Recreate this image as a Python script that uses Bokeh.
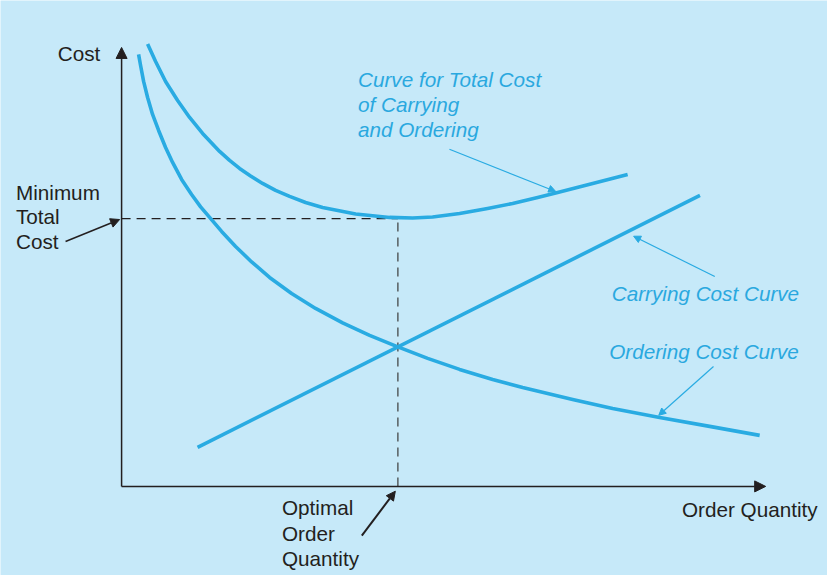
from bokeh.plotting import figure
from bokeh.models import Range1d, Arrow, NormalHead, Label
from bokeh.embed import file_html
from bokeh.resources import INLINE

# ---- data (arbitrary units: order quantity 0..100, cost 0..100) ----
ordering_q = [2.64, 2.95, 3.42, 4.04, 4.81, 5.75, 6.83, 7.92, 9.32, 10.87, 12.27, 13.67,
              15.53, 17.70, 20.19, 22.98, 26.40, 30.12, 34.32, 38.51, 42.70, 47.52,
              52.48, 57.61, 62.27, 70.03, 76.24, 83.54, 91.30, 99.07]
ordering_cost = [98.41, 95.90, 92.26, 88.61, 84.74, 81.09, 77.22, 73.80, 69.93, 66.51, 63.67,
                 61.28, 58.09, 54.67, 51.14, 47.61, 43.96, 40.55, 37.24, 34.40, 31.89,
                 29.16, 26.65, 24.37, 22.55, 19.82, 17.77, 15.72, 13.67, 11.62]

total_q = [4.04, 5.28, 6.83, 8.70, 10.56, 12.58, 15.22, 16.77, 18.32, 20.03, 21.89, 23.91,
           26.09, 28.57, 31.21, 36.34, 41.61, 45.19, 48.29, 52.48, 56.83, 60.71, 64.60,
           67.70, 73.14, 78.57]
total_cost = [100.80, 96.81, 92.26, 87.93, 84.05, 80.41, 76.31, 74.26, 72.44, 70.73, 69.02,
              67.43, 66.06, 64.69, 63.55, 62.07, 61.28, 61.16, 61.39, 62.19, 63.33, 64.46,
              65.83, 66.97, 69.02, 71.07]

carrying_q = [11.8, 89.8]
carrying_cost = [8.9, 66.3]

optimal_q = 42.9
min_total_cost = 61.0

BG = "#c6e9f9"
BLUE = "#29abe2"
TXT_BLUE = "#2aa8df"
BLACK = "#231f20"
FONT = "Liberation Sans"
FS = "20.7px"

p = figure(width=827, height=575, output_backend="svg", toolbar_location=None,
           x_range=Range1d(-18.8, 109.6), y_range=Range1d(-20.3, 110.7),
           min_border=0, min_border_left=0, min_border_right=0,
           min_border_top=0, min_border_bottom=0)
p.background_fill_color = BG
p.border_fill_color = BG
p.outline_line_color = None
p.axis.visible = False
p.grid.visible = False

# dashed guide lines
p.line([0, optimal_q], [min_total_cost, min_total_cost], line_color=BLACK,
       line_width=1.2, line_dash="9 6")
p.line([optimal_q, optimal_q], [0, min_total_cost], line_color="#3a3a3a",
       line_width=1.2, line_dash="9 6")

# curves
for xs, ys in [(ordering_q, ordering_cost), (total_q, total_cost), (carrying_q, carrying_cost)]:
    p.line(xs, ys, line_color=BLUE, line_width=3.6, line_join="round")

# axes with arrowheads
p.add_layout(Arrow(x_start=0, y_start=0, x_end=0, y_end=100, line_color=BLACK, line_width=1.5,
                   end=NormalHead(size=11, fill_color=BLACK, line_color=BLACK)))
p.add_layout(Arrow(x_start=0, y_start=0, x_end=100, y_end=0, line_color=BLACK, line_width=1.5,
                   end=NormalHead(size=11, fill_color=BLACK, line_color=BLACK)))

# leader arrows (black)
p.add_layout(Arrow(x_start=-8.7, y_start=55.8, x_end=-0.3, y_end=60.8, line_color=BLACK,
                   line_width=1.5, end=NormalHead(size=9, fill_color=BLACK, line_color=BLACK)))
p.add_layout(Arrow(x_start=37.3, y_start=-11.2, x_end=42.5, y_end=-1.1, line_color=BLACK,
                   line_width=2, end=NormalHead(size=9, fill_color=BLACK, line_color=BLACK)))

# leader arrows (blue)
for xs, ys, xe, ye in [(50.9, 76.8, 67.4, 67.2), (92.1, 47.8, 79.5, 57.0), (91.9, 27.3, 83.4, 16.2)]:
    p.add_layout(Arrow(x_start=xs, y_start=ys, x_end=xe, y_end=ye, line_color=BLUE,
                       line_width=1.2, end=NormalHead(size=7, fill_color=BLUE, line_color=BLUE)))

def lab(x, y, t, color=BLACK, style="normal"):
    p.add_layout(Label(x=x, y=y, text=t, text_font=FONT, text_font_size=FS,
                       text_color=color, text_font_style=style,
                       text_baseline="middle", text_align="left"))

lab(-9.9, 98.6, "Cost")
lab(-16.4, 67.0, "Minimum")
lab(-16.4, 61.4, "Total")
lab(-16.4, 55.9, "Cost")
lab(24.9, -4.8, "Optimal")
lab(24.9, -10.7, "Order")
lab(24.9, -16.4, "Quantity")
lab(87.0, -5.2, "Order Quantity")

lab(36.7, 92.7, "Curve for Total Cost", TXT_BLUE, "italic")
lab(36.7, 87.0, "of Carrying", TXT_BLUE, "italic")
lab(36.7, 81.3, "and Ordering", TXT_BLUE, "italic")
lab(76.1, 44.0, "Carrying Cost Curve", TXT_BLUE, "italic")
lab(75.7, 30.8, "Ordering Cost Curve", TXT_BLUE, "italic")

open("out.html", "w").write(file_html(p, INLINE))
